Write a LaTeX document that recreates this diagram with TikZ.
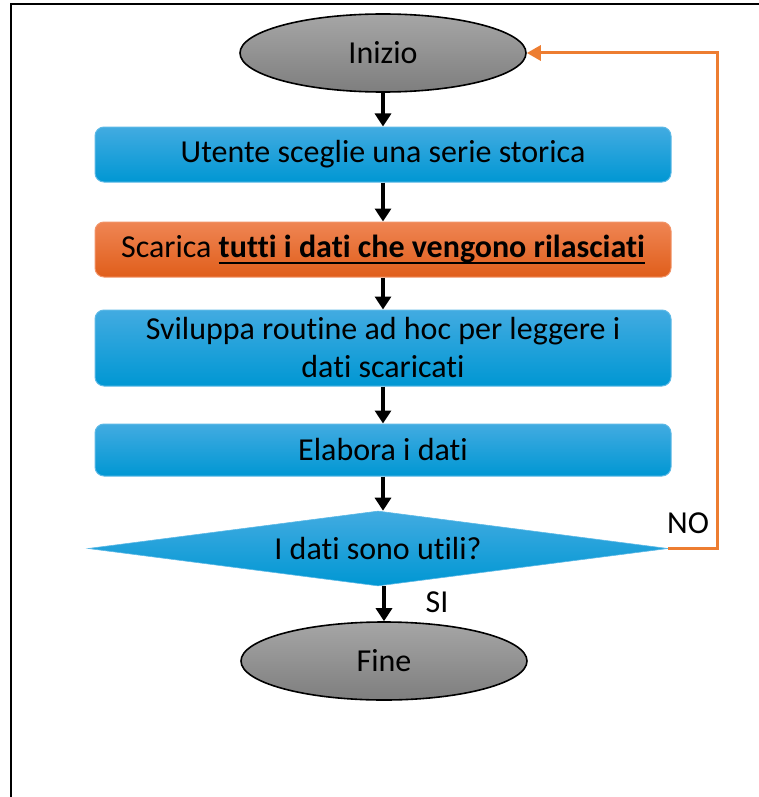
\documentclass[tikz,border=0pt]{standalone}
\usepackage{fontspec}
\setmainfont[Ligatures=NoCommon]{Carlito}
\usetikzlibrary{shapes.geometric,arrows.meta}
\definecolor{bluetop}{HTML}{42ABE1}
\definecolor{bluebot}{HTML}{0097D3}
\definecolor{blueedge}{HTML}{5DB9E6}
\definecolor{orgtop}{HTML}{EF8553}
\definecolor{orgbot}{HTML}{E05E1B}
\definecolor{orgedge}{HTML}{F29468}
\definecolor{looporange}{HTML}{ED7D31}
\definecolor{graytop}{HTML}{A6A6A6}
\definecolor{graybot}{HTML}{7E7E7E}
\newcommand\myul[1]{\setbox0=\hbox{#1}\leavevmode\rlap{\copy0}\rule[-7pt]{\wd0}{2pt}}
\begin{document}
\begin{tikzpicture}[x=1pt,y=-1pt,
  txt/.style={font=\fontsize{32}{38}\selectfont, text=black},
  procbox/.style={txt, rectangle, rounded corners=9pt, minimum width=576pt,
    minimum height=55pt, top color=bluetop, bottom color=bluebot,
    draw=blueedge, line width=1pt, align=center, inner sep=0pt},
  hotbox/.style={procbox, top color=orgtop, bottom color=orgbot, draw=orgedge},
  term/.style={txt, ellipse, minimum width=286pt, minimum height=78pt,
    top color=graytop, bottom color=graybot, draw=black, line width=1.6pt, inner sep=0pt},
  decision/.style={txt, diamond, minimum width=580pt, minimum height=75pt,
    top color=bluetop, bottom color=bluebot, draw=blueedge, line width=0.6pt, inner sep=0pt, aspect=7.7},
  flow/.style={line width=3.6pt, -{Triangle[width=16pt,length=13pt]}},
  back/.style={draw=looporange, line width=3pt, -{Triangle[width=15pt,length=14pt]}},
  lbl/.style={font=\fontsize{32}{36}\selectfont, text=black, inner sep=0pt}
]
\useasboundingbox (0,0) rectangle (759,797);
\draw[line width=2pt] (11,797) -- (11,4) -- (759,4);

\node[term] (start) at (383,53) {Inizio};
\node[procbox] (b1) at (383,154.5) {Utente sceglie una serie storica};
\node[hotbox] (b2) at (383,249.5) {Scarica \myul{\textbf{tutti i dati che vengono rilasciati}}};
\node[procbox, minimum height=76pt] (b3) at (383,348) {Sviluppa routine ad hoc per leggere i\\dati scaricati};
\node[procbox, minimum height=52pt] (b4) at (383,450) {Elabora i dati};
\node[decision] (dec) at (378,548.5) {I dati sono utili?};
\node[term] (fine) at (384,661) {Fine};

\node[lbl] (no) at (688,523) {NO};
\node[lbl] (si) at (437,602) {SI};

\draw[flow] (start.south) -- (b1.north);
\draw[flow] (b1.south) -- (b2.north);
\draw[flow] (b2.south) -- (b3.north);
\draw[flow] (b3.south) -- (b4.north);
\draw[flow] (b4.south) -- (dec.north -| b4.south);
\draw[flow] (dec.south -| fine.north) -- (fine.north);
\draw[back] (dec.east) -- (717,548.5) |- (start.east);
\end{tikzpicture}
\end{document}
